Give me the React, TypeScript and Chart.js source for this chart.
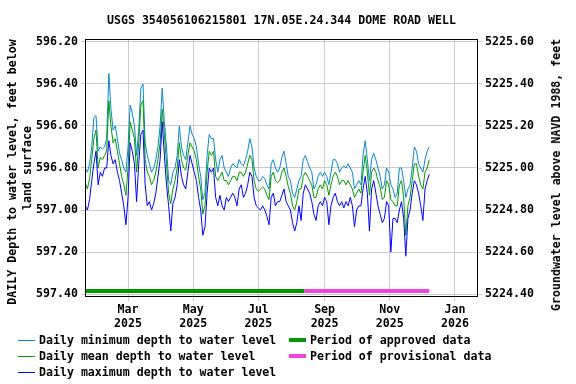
import React, { useEffect, useRef } from "react";
import { Chart, registerables } from "chart.js";
Chart.register(...registerables);

const TITLE = "USGS 354056106215801 17N.05E.24.344 DOME ROAD WELL";
const LEFT_TITLE_1 = "DAILY Depth to water level, feet below";
const LEFT_TITLE_2 = "land surface";
const RIGHT_TITLE = "Groundwater level above NAVD 1988, feet";

// day index: 0 = 2025-01-01; first daily value 2025-01-20, one reading every 2 days
const START_DAY = 19;
const STEP_DAYS = 2;

const minDepth = [
  596.80, 596.82, 596.78, 596.70, 596.56, 596.55, 596.72, 596.70, 596.71, 596.70, 596.66,
  596.35, 596.52, 596.62, 596.60, 596.66, 596.73, 596.76, 596.80, 596.82, 596.70,
  596.50, 596.54, 596.60, 596.74, 596.62, 596.42, 596.40, 596.68, 596.74, 596.78,
  596.82, 596.80, 596.76, 596.70, 596.60, 596.42, 596.58, 596.70, 596.86, 596.88,
  596.82, 596.80, 596.74, 596.60, 596.70, 596.74, 596.76, 596.68, 596.60, 596.64,
  596.66, 596.70, 596.78, 596.84, 596.95, 596.92, 596.74, 596.64, 596.66, 596.66,
  596.76, 596.82, 596.76, 596.74, 596.80, 596.82, 596.84, 596.80, 596.78, 596.79,
  596.80, 596.76, 596.78, 596.79, 596.76, 596.72, 596.66, 596.70, 596.80, 596.84,
  596.86, 596.86, 596.84, 596.85, 596.88, 596.90, 596.78, 596.76, 596.80, 596.82,
  596.80, 596.75, 596.72, 596.78, 596.84, 596.86, 596.92, 596.94, 596.90, 596.86,
  596.84, 596.76, 596.74, 596.77, 596.80, 596.82, 596.90, 596.88, 596.84, 596.82,
  596.84, 596.82, 596.84, 596.88, 596.82, 596.76, 596.76, 596.78, 596.82, 596.80,
  596.79, 596.80, 596.78, 596.80, 596.82, 596.90, 596.88, 596.86, 596.88, 596.74,
  596.67, 596.76, 596.86, 596.76, 596.73, 596.76, 596.80, 596.84, 596.90, 596.88,
  596.80, 596.82, 596.88, 596.90, 596.94, 596.92, 596.80, 596.80, 596.86, 596.94,
  596.90, 596.88, 596.80, 596.70, 596.72, 596.78, 596.80, 596.82, 596.76, 596.72, 596.70,
];

const meanDepth = [
  596.87, 596.90, 596.85, 596.76, 596.66, 596.62, 596.80, 596.75, 596.76, 596.74, 596.72,
  596.48, 596.60, 596.68, 596.66, 596.72, 596.78, 596.84, 596.88, 596.93, 596.80,
  596.58, 596.62, 596.66, 596.82, 596.68, 596.50, 596.48, 596.76, 596.82, 596.84,
  596.88, 596.86, 596.82, 596.76, 596.68, 596.52, 596.64, 596.78, 596.92, 596.97,
  596.90, 596.86, 596.80, 596.68, 596.76, 596.80, 596.81, 596.74, 596.68, 596.70,
  596.72, 596.76, 596.84, 596.90, 597.02, 596.98, 596.82, 596.72, 596.74, 596.72,
  596.84, 596.86, 596.84, 596.82, 596.86, 596.86, 596.88, 596.86, 596.84, 596.84,
  596.86, 596.82, 596.82, 596.84, 596.82, 596.78, 596.74, 596.76, 596.86, 596.90,
  596.91, 596.90, 596.89, 596.90, 596.93, 596.95, 596.84, 596.82, 596.86, 596.87,
  596.86, 596.82, 596.80, 596.84, 596.89, 596.92, 596.98, 597.00, 596.96, 596.90,
  596.90, 596.84, 596.82, 596.84, 596.86, 596.88, 596.94, 596.94, 596.90, 596.88,
  596.90, 596.86, 596.88, 596.93, 596.88, 596.84, 596.82, 596.84, 596.88, 596.86,
  596.86, 596.88, 596.86, 596.88, 596.90, 596.94, 596.92, 596.90, 596.92, 596.82,
  596.74, 596.82, 596.93, 596.82, 596.80, 596.82, 596.86, 596.89, 596.95, 596.94,
  596.86, 596.88, 596.95, 596.96, 596.98, 596.98, 596.88, 596.86, 596.94, 597.12,
  596.98, 596.94, 596.86, 596.78, 596.78, 596.84, 596.88, 596.90, 596.82, 596.80, 596.76,
];

const maxDepth = [
  596.98, 597.00, 596.95, 596.86, 596.78, 596.72, 596.88, 596.82, 596.84, 596.80, 596.80,
  596.67, 596.74, 596.78, 596.76, 596.82, 596.86, 596.92, 596.98, 597.07, 596.94,
  596.68, 596.72, 596.78, 596.96, 596.78, 596.64, 596.62, 596.88, 596.98, 596.96,
  597.00, 596.97, 596.92, 596.84, 596.76, 596.58, 596.74, 596.88, 596.98, 597.10,
  596.97, 596.94, 596.88, 596.76, 596.84, 596.88, 596.90, 596.82, 596.74, 596.78,
  596.82, 596.86, 596.94, 597.00, 597.12, 597.08, 596.92, 596.80, 596.82, 596.80,
  596.94, 596.98, 596.93, 596.98, 597.00, 596.94, 596.96, 596.94, 596.92, 596.94,
  596.98, 596.90, 596.88, 596.94, 596.92, 596.88, 596.82, 596.84, 596.94, 596.98,
  596.99, 597.00, 596.98, 597.00, 597.03, 597.07, 596.94, 596.92, 596.98, 596.96,
  596.96, 596.93, 596.90, 596.96, 596.98, 597.00, 597.06, 597.10, 597.06, 596.98,
  597.05, 596.92, 596.88, 596.90, 596.92, 596.96, 597.02, 597.05, 596.98, 596.96,
  596.98, 596.94, 596.96, 597.07, 596.98, 596.94, 596.92, 596.96, 596.98, 596.96,
  596.99, 596.96, 596.98, 596.94, 596.98, 597.08, 597.00, 596.98, 596.98, 596.90,
  596.84, 596.92, 597.10, 596.90, 596.86, 596.92, 596.98, 597.02, 597.06, 597.04,
  596.96, 596.98, 597.20, 597.04, 597.04, 597.06, 597.00, 596.96, 597.04, 597.22,
  597.04, 597.00, 596.92, 596.86, 596.88, 596.92, 596.98, 597.05, 596.90, 596.86, 596.83,
];

const monthTickDays = [59, 120, 181, 243, 304, 365];
const monthTickLabels = [
  ["Mar", "2025"], ["May", "2025"], ["Jul", "2025"],
  ["Sep", "2025"], ["Nov", "2025"], ["Jan", "2026"],
];
const depthTicks = [596.2, 596.4, 596.6, 596.8, 597.0, 597.2, 597.4];
const elevTicks = [5224.4, 5224.6, 5224.8, 5225.0, 5225.2, 5225.4, 5225.6];
const DATUM = 5821.8; // elevation = DATUM - depth

const approvedPeriod = [19, 224];
const provisionalPeriod = [224, 341];
const PERIOD_BAR_DEPTH = 597.385;

const X_MIN = 18.7;
const X_MAX = 386.6;
const Y_TOP = 596.186;
const Y_BOTTOM = 597.414;

const FONT = "'DejaVu Sans Mono', monospace";
const FONT_SIZE = 11.6;
const C_MIN = "#0a86cc";
const C_MEAN = "#009a00";
const C_MAX = "#0000ff";
const C_APPROVED = "#009a00";
const C_PROV = "#f044dc";

const toPoints = (arr: number[]) =>
  arr.map((v, i) => ({ x: START_DAY + i * STEP_DAYS, y: v }));

const frame = {
  id: "frame",
  afterDraw(chart: any) {
    const { ctx, chartArea: a } = chart;
    ctx.save();
    ctx.strokeStyle = "#000";
    ctx.lineWidth = 1;
    ctx.strokeRect(a.left + 0.5, a.top + 0.5, a.right - a.left - 1, a.bottom - a.top - 1);
    ctx.restore();
  },
};

export default function App() {
  const ref = useRef<HTMLCanvasElement | null>(null);
  useEffect(() => {
    if (!ref.current) return;
    const tickFont = { family: FONT, size: FONT_SIZE, weight: "bold" as const };
    const chart = new Chart(ref.current, {
      type: "line",
      data: {
        datasets: [
          { label: "max", data: toPoints(maxDepth), borderColor: C_MAX, borderWidth: 1, pointRadius: 0, order: 1 },
          { label: "mean", data: toPoints(meanDepth), borderColor: C_MEAN, borderWidth: 1, pointRadius: 0, order: 2 },
          { label: "min", data: toPoints(minDepth), borderColor: C_MIN, borderWidth: 1, pointRadius: 0, order: 3 },
          {
            label: "approved",
            data: approvedPeriod.map((d) => ({ x: d, y: PERIOD_BAR_DEPTH })),
            borderColor: C_APPROVED, borderWidth: 4, pointRadius: 0, borderCapStyle: "butt", order: 0,
          },
          {
            label: "provisional",
            data: provisionalPeriod.map((d) => ({ x: d, y: PERIOD_BAR_DEPTH })),
            borderColor: C_PROV, borderWidth: 4, pointRadius: 0, borderCapStyle: "butt", order: 0,
          },
        ],
      },
      options: {
        animation: false,
        responsive: false,
        maintainAspectRatio: false,
        layout: { padding: { top: 39, left: 0, right: 0, bottom: 0 } },
        plugins: { legend: { display: false }, tooltip: { enabled: false }, title: { display: false } },
        elements: { line: { tension: 0 } },
        scales: {
          x: {
            type: "linear",
            min: X_MIN,
            max: X_MAX,
            afterBuildTicks: (s: any) => { s.ticks = monthTickDays.map((v) => ({ value: v })); },
            afterFit: (s: any) => { s.height = 384 - 297; },
            ticks: {
              autoSkip: false,
              maxRotation: 0,
              padding: 2,
              color: "#000",
              font: tickFont,
              callback: (v: any) => {
                const i = monthTickDays.indexOf(Math.round(Number(v)));
                return i >= 0 ? monthTickLabels[i] : "";
              },
            },
            grid: { color: "#cccccc", lineWidth: 1, tickLength: 4, drawTicks: true },
            border: { display: false },
          },
          y: {
            type: "linear",
            position: "left",
            reverse: true,
            min: Y_TOP,
            max: Y_BOTTOM,
            afterBuildTicks: (s: any) => { s.ticks = depthTicks.map((v) => ({ value: v })); },
            afterFit: (s: any) => { s.width = 85; },
            ticks: { padding: 3, color: "#000", font: tickFont, callback: (v: any) => Number(v).toFixed(2) },
            grid: { color: "#cccccc", lineWidth: 1, tickLength: 4 },
            border: { display: false },
          },
          y2: {
            type: "linear",
            position: "right",
            display: true,
            min: DATUM - Y_BOTTOM,
            max: DATUM - Y_TOP,
            afterBuildTicks: (s: any) => { s.ticks = elevTicks.map((v) => ({ value: v })); },
            afterFit: (s: any) => { s.width = 576 - 478; },
            ticks: { padding: 3, color: "#000", font: tickFont, callback: (v: any) => Number(v).toFixed(2) },
            grid: { drawOnChartArea: false, color: "#cccccc", tickLength: 4 },
            border: { display: false },
          },
        },
      },
      plugins: [frame],
    } as any);
    return () => chart.destroy();
  }, []);

  const txt: React.CSSProperties = {
    position: "absolute",
    fontFamily: FONT,
    fontWeight: "bold",
    fontSize: FONT_SIZE,
    color: "#000",
    whiteSpace: "nowrap",
    lineHeight: "14px",
  };
  const vert = (cx: number, cy: number): React.CSSProperties => ({
    ...txt,
    left: cx,
    top: cy,
    transform: "translate(-50%, -50%) rotate(-90deg)",
  });
  const legendRow = (y: number, x: number, color: string, thick: number, label: string) => (
    <div key={label}>
      <div style={{ position: "absolute", left: x, top: y - thick / 2, width: 17, height: thick, background: color }} />
      <div style={{ ...txt, left: x + 21, top: y - 7 }}>{label}</div>
    </div>
  );

  return (
    <div style={{ position: "fixed", left: 0, top: 0, width: 576, height: 384, background: "#fff", overflow: "hidden" }}>
      <canvas ref={ref} width={576} height={384} style={{ position: "absolute", left: 0, top: 0, width: 576, height: 384 }} />
      <div style={{ ...txt, left: 0, width: 563, top: 13, textAlign: "center" }}>{TITLE}</div>
      <div style={vert(12, 172)}>{LEFT_TITLE_1}</div>
      <div style={vert(27, 168)}>{LEFT_TITLE_2}</div>
      <div style={vert(556, 175)}>{RIGHT_TITLE}</div>
      {legendRow(340, 18, C_MIN, 1, "Daily minimum depth to water level")}
      {legendRow(356, 18, C_MEAN, 1, "Daily mean depth to water level")}
      {legendRow(372, 18, C_MAX, 1, "Daily maximum depth to water level")}
      {legendRow(340, 289, C_APPROVED, 4, "Period of approved data")}
      {legendRow(356, 289, C_PROV, 4, "Period of provisional data")}
    </div>
  );
}
